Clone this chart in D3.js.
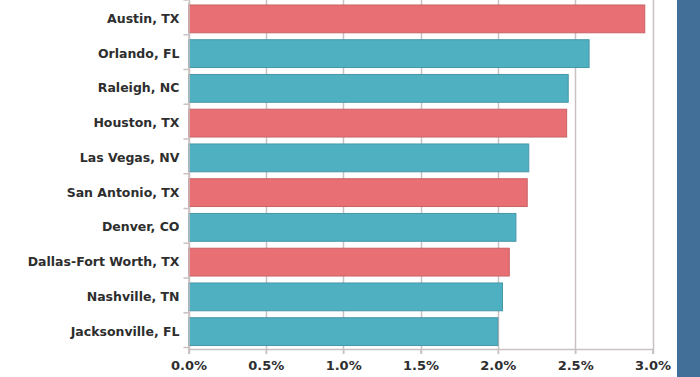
<!DOCTYPE html>
<html>
<head>
<meta charset="utf-8">
<script src="https://cdnjs.cloudflare.com/ajax/libs/d3/7.8.5/d3.min.js"></script>
<style>
  body { margin: 0; background: #fff; }
  .axis text { font-family: "DejaVu Sans", Verdana, sans-serif; font-weight: bold; fill: #2e2e2e; }
</style>
</head>
<body>
<svg id="chart" width="700" height="377"></svg>
<script>
var cities = ['Austin, TX', 'Orlando, FL', 'Raleigh, NC', 'Houston, TX', 'Las Vegas, NV',
              'San Antonio, TX', 'Denver, CO', 'Dallas-Fort Worth, TX', 'Nashville, TN', 'Jacksonville, FL'];
var growth = [2.95, 2.59, 2.455, 2.445, 2.20, 2.19, 2.117, 2.074, 2.03, 2.00];
var texas = [true, false, false, true, false, true, false, true, false, false];
var ticks = [0, 0.5, 1.0, 1.5, 2.0, 2.5, 3.0];

var svg = d3.select("#chart");
var plotLeft = 188.5, plotRight = 652.5, plotTop = 0, plotBottom = 349;

var x = d3.scaleLinear().domain([0, 3]).range([plotLeft, plotRight]);
var y = d3.scaleBand().domain(cities).range([plotTop + 1.5, plotBottom]).paddingInner(0.2).paddingOuter(0.1);

// blue side panel
svg.append("rect")
  .attr("x", 677).attr("y", 0)
  .attr("width", 23).attr("height", 377)
  .attr("fill", "#426f98");

// vertical gridlines
svg.append("g")
  .selectAll("line")
  .data(ticks)
  .join("line")
  .attr("x1", function(d) { return Math.round(x(d)) + 0.5; })
  .attr("x2", function(d) { return Math.round(x(d)) + 0.5; })
  .attr("y1", plotTop)
  .attr("y2", plotBottom + 5)
  .attr("stroke", "#c9c1c1")
  .attr("stroke-width", 1.5);

// bars
svg.append("g")
  .selectAll("rect")
  .data(cities)
  .join("rect")
  .attr("x", x(0))
  .attr("y", function(d) { return y(d); })
  .attr("width", function(d, i) { return x(growth[i]) - x(0); })
  .attr("height", y.bandwidth())
  .attr("fill", function(d, i) { return texas[i] ? "#e87074" : "#4fb0c2"; })
  .attr("stroke", function(d, i) { return texas[i] ? "#c96266" : "#4797a8"; })
  .attr("stroke-width", 1);

// left axis
var yAxis = svg.append("g")
  .attr("class", "axis")
  .attr("transform", "translate(" + plotLeft + ",0)")
  .call(d3.axisLeft(y).tickSize(0).tickPadding(9));
yAxis.select(".domain").attr("stroke", "#c9c1c1").attr("stroke-width", 1.5);
yAxis.selectAll("text").style("font-size", "12.5px");

// small separators on the left axis
svg.append("g")
  .selectAll("line")
  .data(d3.range(cities.length + 1))
  .join("line")
  .attr("x1", plotLeft - 5).attr("x2", plotLeft)
  .attr("y1", function(i) { return plotTop + i * y.step(); })
  .attr("y2", function(i) { return plotTop + i * y.step(); })
  .attr("stroke", "#c9c1c1")
  .attr("stroke-width", 1.5);

// bottom axis
var xAxis = svg.append("g")
  .attr("class", "axis")
  .attr("transform", "translate(0," + plotBottom + ")")
  .call(d3.axisBottom(x).tickValues(ticks).tickFormat(function(d) { return d.toFixed(1) + "%"; })
        .tickSize(5).tickPadding(7));
xAxis.select(".domain").attr("stroke", "#c9c1c1").attr("stroke-width", 1.5);
xAxis.selectAll(".tick line").attr("stroke", "#c9c1c1").attr("stroke-width", 1.5);
xAxis.selectAll("text").style("font-size", "13px");
</script>
</body>
</html>
